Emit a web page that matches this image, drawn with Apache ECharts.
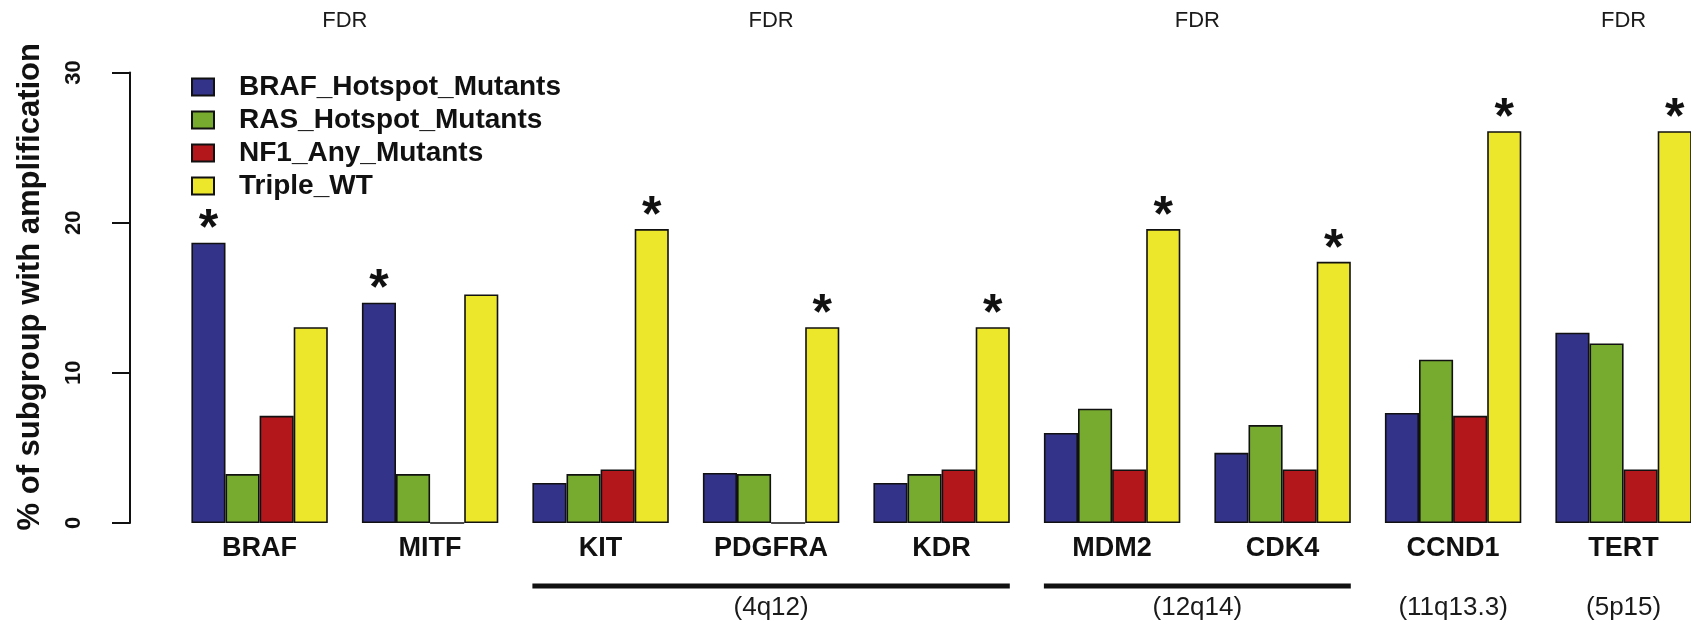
<!DOCTYPE html>
<html>
<head>
<meta charset="utf-8">
<script src="https://cdn.jsdelivr.net/npm/echarts@6/dist/echarts.min.js"></script>
<style>
  html, body { margin: 0; padding: 0; background: #ffffff; overflow: hidden; }
  /* the plot runs past the right edge of the window, so the canvas is wider than the view */
  #chart { width: 1730px; height: 629px; }
</style>
</head>
<body>
<div id="chart"></div>
<script>
// Genes and the percentage of each mutation subgroup carrying an amplification
const genes = ['BRAF', 'MITF', 'KIT', 'PDGFRA', 'KDR', 'MDM2', 'CDK4', 'CCND1', 'TERT'];
const seriesNames = ['BRAF_Hotspot_Mutants', 'RAS_Hotspot_Mutants', 'NF1_Any_Mutants', 'Triple_WT'];
const brafHotspot = [18.67, 14.67, 2.67, 3.33, 2.67, 6.00, 4.67, 7.33, 12.67];
const rasHotspot  = [3.26, 3.26, 3.26, 3.26, 3.26, 7.61, 6.52, 10.87, 11.96];
const nf1Any      = [7.14, 0, 3.57, 0, 3.57, 3.57, 3.57, 7.14, 3.57];
const tripleWT    = [13.04, 15.22, 19.57, 13.04, 13.04, 19.57, 17.39, 26.09, 26.09];

// Significance flags (1 = marked with an asterisk)
const brafStar = [1, 1, 0, 0, 0, 0, 0, 0, 0];
const rasStar  = [0, 0, 0, 0, 0, 0, 0, 0, 0];
const nf1Star  = [0, 0, 0, 0, 0, 0, 0, 0, 0];
const wtStar   = [0, 0, 1, 1, 1, 1, 1, 1, 1];

// Value axis ticks
const yTicks = [0, 10, 20, 30];

// Cytoband groupings drawn beneath the gene names
const amplicons = [
  { text: '(4q12)',    from: 'KIT',   to: 'KDR',   bar: true },
  { text: '(12q14)',   from: 'MDM2',  to: 'CDK4',  bar: true },
  { text: '(11q13.3)', from: 'CCND1', to: 'CCND1', bar: false },
  { text: '(5p15)',    from: 'TERT',  to: 'TERT',  bar: false }
];
// Header captions above the gene groups
const fdrText = 'FDR';
const fdrSpans = [['BRAF', 'MITF'], ['KIT', 'KDR'], ['MDM2', 'CDK4'], ['TERT', 'TERT']];

const colors = ['#34338a', '#77ab2f', '#b3171c', '#ece72a'];
const FONT = 'Liberation Sans, Arial, Helvetica, sans-serif';
const INK = '#111111';

const chart = echarts.init(document.getElementById('chart'), null, { renderer: 'canvas' });

function barSeries(name, values, stars, color) {
  return {
    name: name,
    type: 'bar',
    data: values,
    barGap: '0%',
    barCategoryGap: '20%',
    itemStyle: { color: color, borderColor: INK, borderWidth: 1.6 },
    emphasis: { disabled: true },
    label: {
      show: true,
      position: 'top',
      distance: -13,
      formatter: function (p) { return stars[p.dataIndex] ? '*' : ''; },
      fontSize: 50,
      fontWeight: 'bold',
      fontFamily: FONT,
      color: INK
    }
  };
}

chart.setOption({
  animation: false,
  backgroundColor: '#ffffff',
  grid: { left: 174.35, top: 72.5, width: 1534.5, height: 450.5, containLabel: false },
  legend: {
    data: seriesNames,
    orient: 'vertical',
    left: 191,
    top: 73,
    padding: 0,
    itemWidth: 22,
    itemHeight: 17,
    itemGap: 5,
    icon: 'rect',
    selectedMode: false,
    textStyle: { fontSize: 28, fontWeight: 'bold', fontFamily: FONT, color: INK, padding: [0, 0, 0, 20] }
  },
  xAxis: {
    type: 'category',
    data: genes,
    axisLine: { show: false },
    axisTick: { show: false },
    axisLabel: { interval: 0, margin: 12, fontSize: 27, fontWeight: 'bold', fontFamily: FONT, color: INK }
  },
  yAxis: {
    type: 'value',
    min: yTicks[0],
    max: yTicks[yTicks.length - 1],
    interval: yTicks[1] - yTicks[0],
    offset: 44.35,
    splitLine: { show: false },
    axisLine: { show: true, lineStyle: { color: INK, width: 2 } },
    axisTick: { show: true, length: 18, lineStyle: { color: INK, width: 2 } },
    axisLabel: { rotate: 90, margin: 45, fontSize: 22, fontWeight: 'bold', fontFamily: FONT, color: INK },
    name: '% of subgroup with amplification',
    nameLocation: 'middle',
    nameRotate: 90,
    nameGap: 84,
    nameTextStyle: { fontSize: 31, fontWeight: 'bold', fontFamily: FONT, color: INK, padding: [0, 0, 0, 22] }
  },
  series: [
    barSeries(seriesNames[0], brafHotspot, brafStar, colors[0]),
    barSeries(seriesNames[1], rasHotspot, rasStar, colors[1]),
    barSeries(seriesNames[2], nf1Any, nf1Star, colors[2]),
    barSeries(seriesNames[3], tripleWT, wtStar, colors[3])
  ]
});

// Annotations placed from the category axis scale
function xOf(name) { return chart.convertToPixel({ xAxisIndex: 0 }, name); }
const band = xOf(genes[1]) - xOf(genes[0]);
const half = band * 0.4;
const yBase = chart.convertToPixel({ yAxisIndex: 0 }, yTicks[0]);
const yTop = chart.convertToPixel({ yAxisIndex: 0 }, yTicks[yTicks.length - 1]);

const graphics = [];
amplicons.forEach(function (a) {
  const x0 = xOf(a.from) - half;
  const x1 = xOf(a.to) + half;
  if (a.bar) {
    graphics.push({
      type: 'rect',
      shape: { x: x0, y: yBase + 60.5, width: x1 - x0, height: 5 },
      style: { fill: INK },
      silent: true
    });
  }
  graphics.push({
    type: 'text',
    x: (x0 + x1) / 2,
    y: yBase + 85,
    style: { text: a.text, fill: '#1a1a1a', fontSize: 26, fontFamily: FONT, align: 'center', verticalAlign: 'middle' },
    silent: true
  });
});
fdrSpans.forEach(function (s) {
  graphics.push({
    type: 'text',
    x: (xOf(s[0]) + xOf(s[1])) / 2,
    y: yTop - 52,
    style: { text: fdrText, fill: '#1a1a1a', fontSize: 22, fontFamily: FONT, align: 'center', verticalAlign: 'middle' },
    silent: true
  });
});
chart.setOption({ graphic: graphics });
</script>
</body>
</html>
